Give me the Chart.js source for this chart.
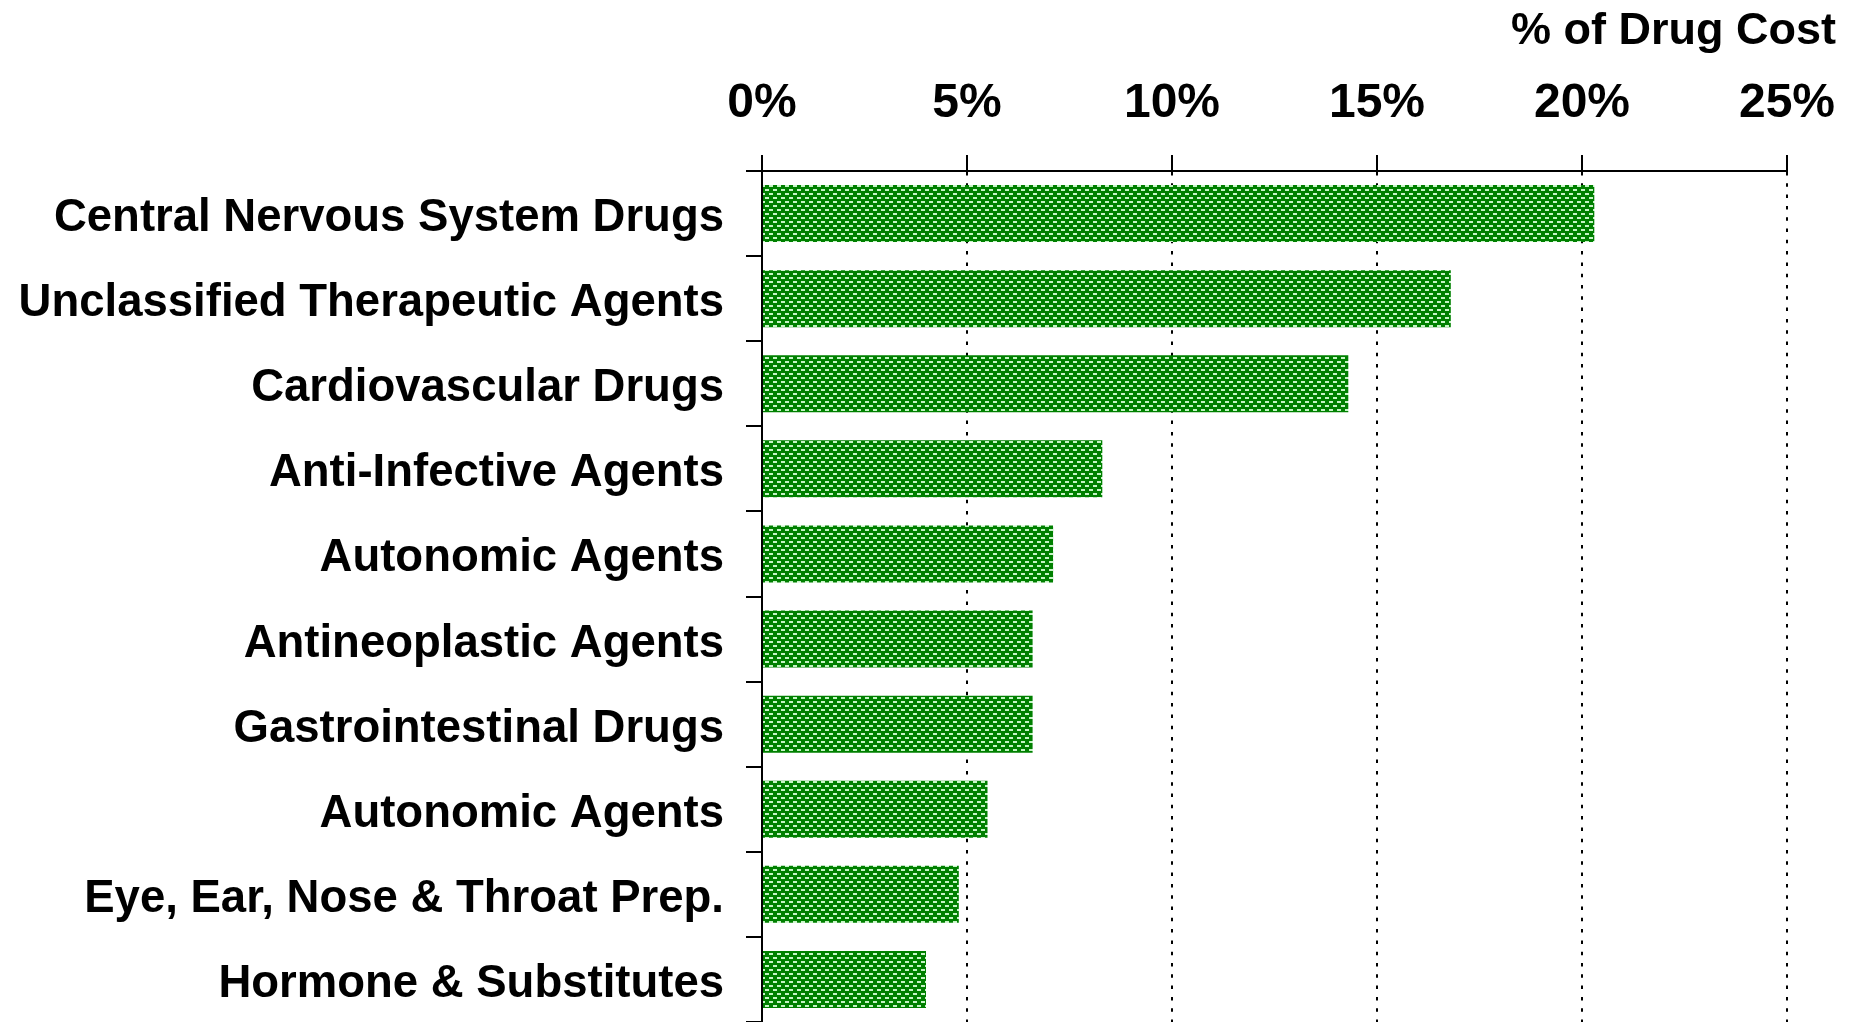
<!DOCTYPE html>
<html>
<head>
<meta charset="utf-8">
<title>% of Drug Cost by Therapeutic Class</title>
<script src="https://cdn.jsdelivr.net/npm/chart.js@4/dist/chart.umd.min.js"></script>
<style>
    html, body { margin: 0; padding: 0; background: #ffffff; }
    canvas { display: block; }
</style>
</head>
<body>
<canvas id="chart-drug-cost" width="1854" height="1022"></canvas>
<script>
// Share of total drug cost by therapeutic class
const drugClasses = [
    'Central Nervous System Drugs',
    'Unclassified Therapeutic Agents',
    'Cardiovascular Drugs',
    'Anti-Infective Agents',
    'Autonomic Agents',
    'Antineoplastic Agents',
    'Gastrointestinal Drugs',
    'Autonomic Agents',
    'Eye, Ear, Nose & Throat Prep.',
    'Hormone & Substitutes'
];
const costShare = [20.3, 16.8, 14.3, 8.3, 7.1, 6.6, 6.6, 5.5, 4.8, 4.0];
const axisMin = 0;
const axisMax = 25;
const axisStep = 5;
const chartTitle = '% of Drug Cost';

const colors = {
    bar: '#008000',
    fleck: '#c6f5c6',
    ink: '#000000'
};
const fontFamily = "Arial, 'Liberation Sans', Helvetica, sans-serif";

const canvas = document.getElementById('chart-drug-cost');
const ctx = canvas.getContext('2d');

// little brick-dash fill for the bars
function makeBarPattern() {
    const tile = document.createElement('canvas');
    tile.width = 8;
    tile.height = 8;
    const t = tile.getContext('2d');
    t.fillStyle = colors.bar;
    t.fillRect(0, 0, 8, 8);
    t.fillStyle = colors.fleck;
    t.fillRect(1, 1, 4, 2);
    t.fillRect(5, 5, 4, 2);
    t.fillRect(0, 5, 1, 2);
    return ctx.createPattern(tile, 'repeat');
}

const barFill = makeBarPattern();

new Chart(ctx, {
    type: 'bar',
    data: {
        labels: drugClasses,
        datasets: [{
            label: chartTitle,
            data: costShare,
            backgroundColor: barFill,
            borderWidth: 0,
            categoryPercentage: 1.0,
            barPercentage: 0.67
        }]
    },
    options: {
        indexAxis: 'y',
        responsive: false,
        animation: false,
        layout: {
            padding: { top: 0, right: 18, bottom: -2, left: 0 }
        },
        plugins: {
            legend: { display: false },
            tooltip: { enabled: false },
            title: {
                display: true,
                text: chartTitle,
                align: 'end',
                color: colors.ink,
                font: { family: fontFamily, size: 45, weight: 'bold', lineHeight: 1.2 },
                padding: { top: 5, bottom: 11 }
            }
        },
        scales: {
            x: {
                position: 'top',
                min: axisMin,
                max: axisMax,
                afterFit: scale => {
                    scale.height = 101;
                    // leave just enough room on the right for the "25%" label
                    scale.paddingRight = 67;
                },
                ticks: {
                    stepSize: axisStep,
                    color: colors.ink,
                    padding: 22,
                    font: { family: fontFamily, size: 48, weight: 'bold' },
                    callback: v => v + '%'
                },
                grid: {
                    color: colors.ink,
                    lineWidth: 2,
                    tickLength: 16,
                    tickWidth: 2,
                    tickColor: colors.ink
                },
                border: {
                    color: colors.ink,
                    width: 2,
                    dash: [3.5, 7.8]
                }
            },
            y: {
                z: 1,
                afterFit: scale => {
                    // category bands run right to the bottom edge
                    scale.width = 762;
                    scale.paddingTop = 0;
                    scale.paddingBottom = 0;
                },
                ticks: {
                    color: colors.ink,
                    padding: 22,
                    labelOffset: 5,
                    font: { family: fontFamily, size: 45.5, weight: 'bold' }
                },
                grid: {
                    drawOnChartArea: false,
                    color: colors.ink,
                    lineWidth: 2,
                    tickLength: 16
                },
                border: {
                    color: colors.ink,
                    width: 2
                }
            }
        }
    }
});
</script>
</body>
</html>
